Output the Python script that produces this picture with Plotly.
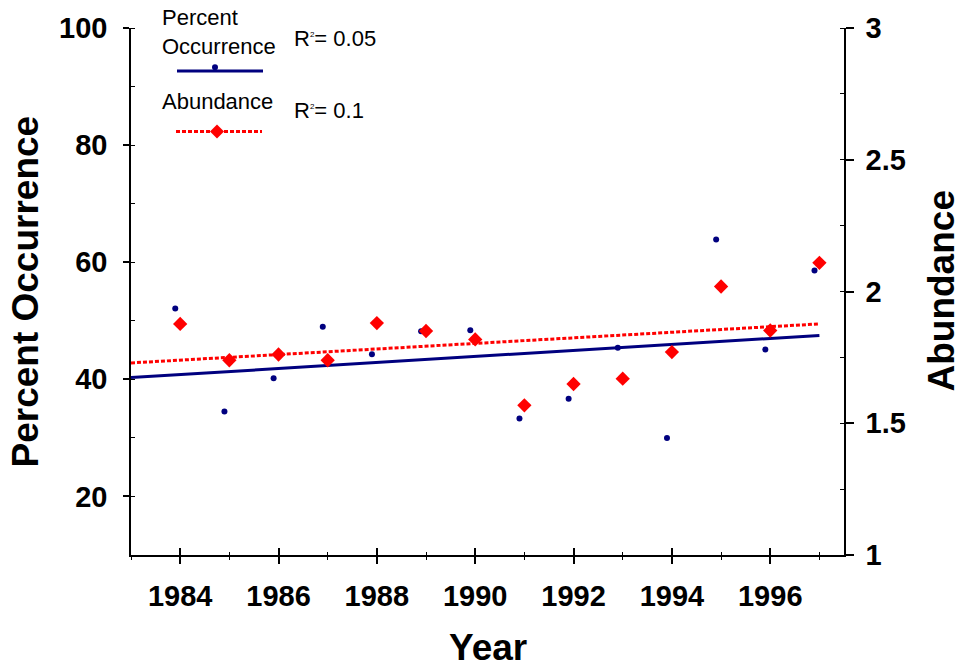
import plotly.graph_objects as go

# ---------------- data ----------------
years = [1984, 1985, 1986, 1987, 1988, 1989, 1990, 1991, 1992, 1993, 1994, 1995, 1996, 1997]
percent_occurrence = [52.1, 34.5, 40.2, 49.0, 44.3, 48.2, 48.4, 33.3, 36.7, 45.4, 30.0, 63.9, 45.1, 58.6]
abundance = [1.877, 1.739, 1.761, 1.739, 1.880, 1.850, 1.818, 1.568, 1.649, 1.669, 1.770, 2.019, 1.852, 2.109]
occ_year_offset = -0.1  # occurrence dots are drawn slightly left of each year

trend_years = [1983, 1997]
occ_trend = [40.3, 47.5]
abund_trend = [1.729, 1.877]

x_tick_vals = [1984, 1986, 1988, 1990, 1992, 1994, 1996]
y_left_ticks = [20, 40, 60, 80, 100]
y_right_ticks = [1, 1.5, 2, 2.5, 3]
y_right_text = ["1", "1.5", "2", "2.5", "3"]

r2_occ = "0.05"
r2_abund = "0.1"

NAVY = "#00007F"
RED = "#FF0000"
FONT = "Liberation Sans, Arial, sans-serif"

# plot area in pixels
W, H = 961, 667
L, R, T, B = 131, 844, 23, 555


def px_x(p):
    return (p - L) / (R - L)


def px_y(p):
    return (B - p) / (B - T)


fig = go.Figure()

fig.add_trace(go.Scatter(x=trend_years, y=abund_trend, mode="lines", yaxis="y2",
                         line=dict(color=RED, width=3, dash="4px,2px"),
                         showlegend=False, hoverinfo="skip"))
fig.add_trace(go.Scatter(x=trend_years, y=occ_trend, mode="lines",
                         line=dict(color=NAVY, width=3),
                         showlegend=False, hoverinfo="skip"))
fig.add_trace(go.Scatter(x=[y + occ_year_offset for y in years], y=percent_occurrence,
                         mode="markers", marker=dict(color=NAVY, size=6),
                         showlegend=False))
fig.add_trace(go.Scatter(x=years, y=abundance, mode="markers", yaxis="y2",
                         marker=dict(color=RED, size=11, symbol="diamond", line=dict(width=0)),
                         showlegend=False))
# empty trace so that the overlay axis (inside half of crossing ticks) is drawn
fig.add_trace(go.Scatter(x=[None], y=[None], xaxis="x3", showlegend=False, hoverinfo="skip"))

tickfont = dict(family=FONT, size=29, color="black", weight="bold")

fig.update_layout(
    width=W, height=H,
    margin=dict(l=L, r=W - R, t=T, b=H - B),
    paper_bgcolor="white", plot_bgcolor="white",
    showlegend=False,
    xaxis=dict(range=[1983, 1997.5], tickmode="array", tickvals=x_tick_vals,
               ticks="outside", ticklen=7, tickwidth=1.5, tickcolor="black",
               minor=dict(ticks="outside", ticklen=3, tickwidth=1, tick0=1983, dtick=1, tickcolor="black"),
               showline=True, linecolor="black", linewidth=1.5,
               showgrid=False, zeroline=False, tickfont=tickfont, ticklabelstandoff=7),
    xaxis3=dict(range=[1983, 1997.5], overlaying="x", anchor="y", side="bottom",
                tickmode="array", tickvals=x_tick_vals,
                ticks="inside", ticklen=7, tickwidth=1.5, tickcolor="black",
                minor=dict(ticks="inside", ticklen=3, tickwidth=1, tick0=1983, dtick=1, tickcolor="black"),
                showticklabels=False, showline=False, showgrid=False, zeroline=False),
    yaxis=dict(range=[10, 100], tickmode="array", tickvals=y_left_ticks,
               ticks="outside", ticklen=6, tickwidth=1.5, tickcolor="black",
               minor=dict(ticks="inside", ticklen=4, tickwidth=1, tick0=10, dtick=10, tickcolor="black"),
               showline=True, linecolor="black", linewidth=1.5,
               showgrid=False, zeroline=False, tickfont=tickfont, ticklabelstandoff=10),
    yaxis2=dict(range=[1, 3], overlaying="y", side="right", tickmode="array",
                tickvals=y_right_ticks, ticktext=y_right_text,
                ticks="outside", ticklen=8, tickwidth=1.5, tickcolor="black",
                minor=dict(ticks="inside", ticklen=4, tickwidth=1, tick0=1, dtick=0.25, tickcolor="black"),
                showline=True, linecolor="black", linewidth=1.5,
                showgrid=False, zeroline=False, tickfont=tickfont, ticklabelstandoff=6),
)

titlefont = dict(family=FONT, size=37, color="black", weight="bold")
legfont = dict(family=FONT, size=22, color="black")

annotations = [
    dict(text="Percent Occurrence", x=px_x(25), y=px_y(289), textangle=-90, font=titlefont),
    dict(text="Abundance", x=px_x(941), y=px_y(289), textangle=-90, font=titlefont),
    dict(text="Year", x=0.5, y=px_y(648), font=titlefont),
    dict(text="Percent<br>Occurrence", x=px_x(160), y=px_y(27), xanchor="left", font=legfont, align="left"),
    dict(text="R<sup><span style='font-size:8px'>2</span></sup>= " + r2_occ, x=px_x(292), y=px_y(34), xanchor="left", font=legfont),
    dict(text="Abundance", x=px_x(160), y=px_y(97), xanchor="left", font=legfont),
    dict(text="R<sup><span style='font-size:8px'>2</span></sup>= " + r2_abund, x=px_x(292), y=px_y(106), xanchor="left", font=legfont),
]
for a in annotations:
    a.setdefault("xanchor", "center")
    a.update(xref="paper", yref="paper", yanchor="middle", showarrow=False)
fig.update_layout(annotations=annotations)

shapes = [
    # legend: occurrence line + dot
    dict(type="line", x0=px_x(177), x1=px_x(263), y0=px_y(66.5), y1=px_y(66.5),
         line=dict(color=NAVY, width=3)),
    dict(type="circle", xsizemode="pixel", ysizemode="pixel", xanchor=px_x(215), yanchor=px_y(62.5),
         x0=-3, x1=3, y0=-3, y1=3, fillcolor=NAVY, line=dict(width=0)),
    # legend: abundance dotted line + diamond
    dict(type="line", x0=px_x(176), x1=px_x(262), y0=px_y(127.5), y1=px_y(127.5),
         line=dict(color=RED, width=3, dash="4px,2px")),
    dict(type="path", xsizemode="pixel", ysizemode="pixel", xanchor=px_x(217), yanchor=px_y(127.5),
         path="M 0,7 L 7,0 L 0,-7 L -7,0 Z", fillcolor=RED, line=dict(width=0)),
]
for s in shapes:
    s.update(xref="paper", yref="paper", layer="above")
fig.update_layout(shapes=shapes)

fig.write_html("out.html", config={"displayModeBar": False},
               post_script="document.body.style.margin='0';document.body.style.padding='0';document.body.style.overflow='hidden';")
